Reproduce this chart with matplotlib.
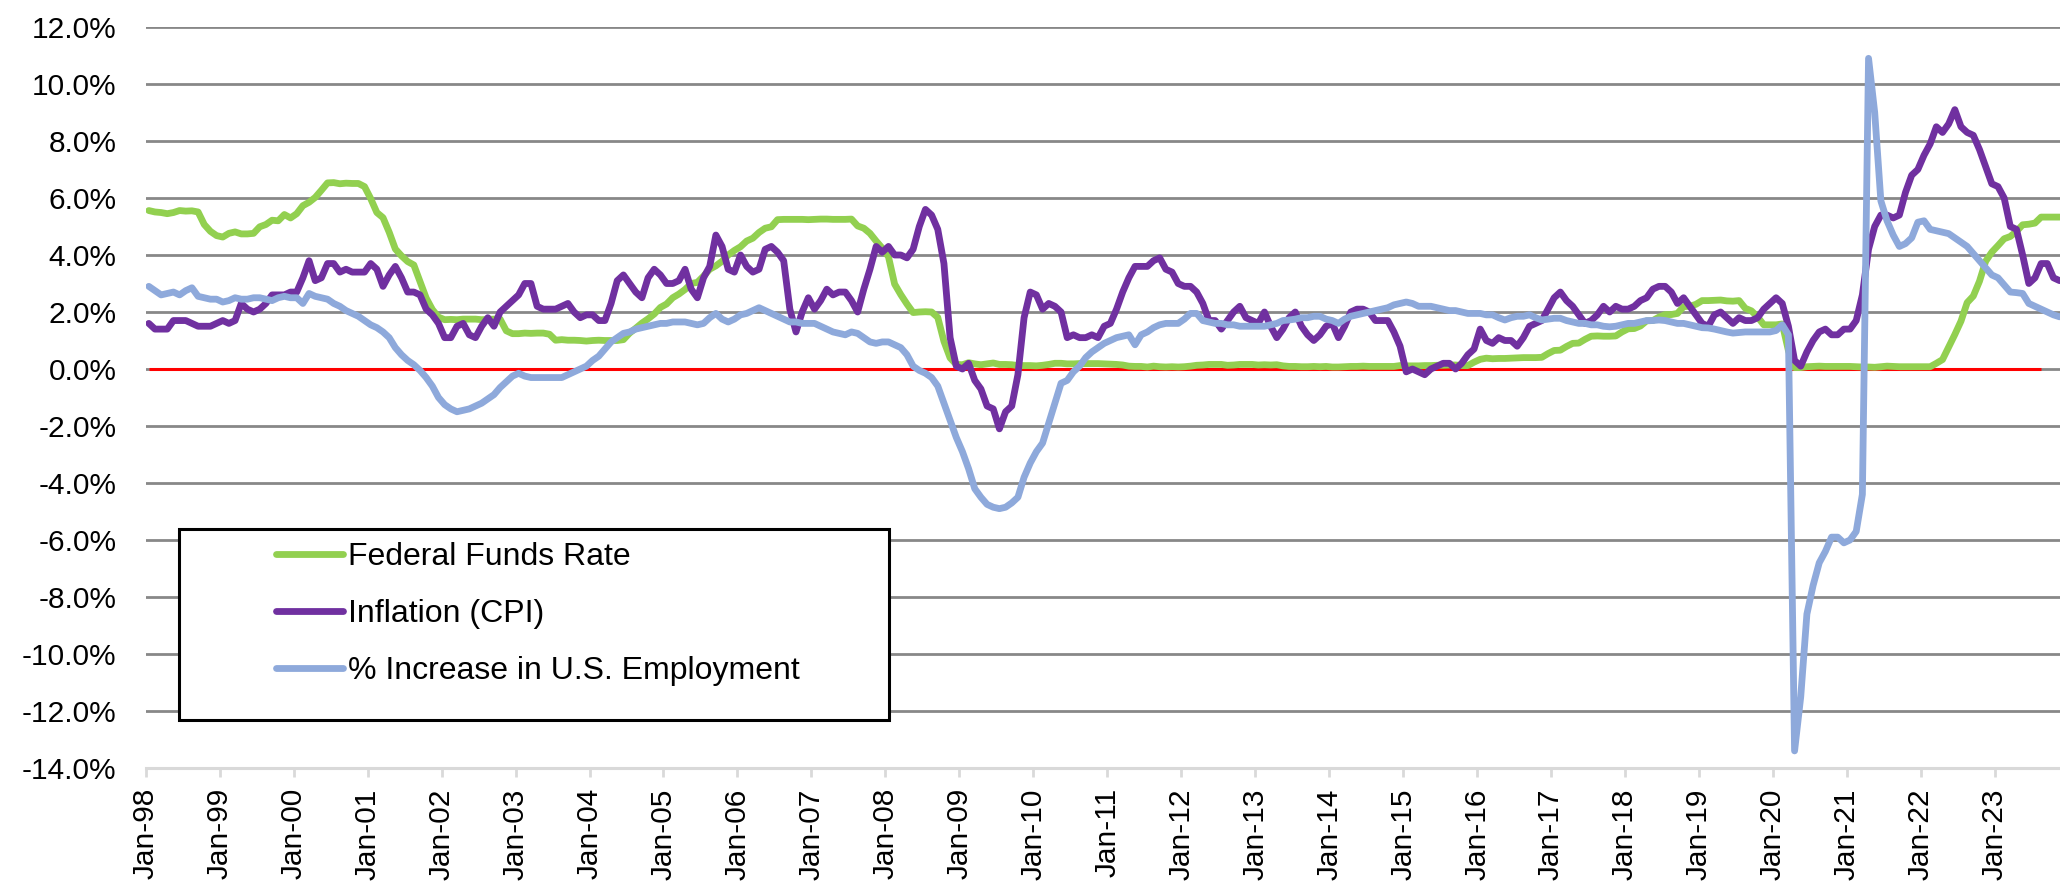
import numpy as np
import matplotlib
matplotlib.use("Agg")
import matplotlib.pyplot as plt
from matplotlib.ticker import FuncFormatter, FixedLocator
from matplotlib.patches import Rectangle
from matplotlib.lines import Line2D

plt.rcParams['font.family'] = ['Liberation Sans', 'DejaVu Sans']

# ---------------- data (monthly, Jan-98 .. Nov-23) ----------------
fed_funds = [
    5.56, 5.51, 5.49, 5.45, 5.49, 5.56, 5.54, 5.55, 5.51, 5.07, 4.83, 4.68,   # 1998
    4.63, 4.76, 4.81, 4.74, 4.74, 4.76, 4.99, 5.07, 5.22, 5.20, 5.42, 5.30,   # 1999
    5.45, 5.73, 5.85, 6.02, 6.27, 6.53, 6.54, 6.50, 6.52, 6.51, 6.51, 6.40,   # 2000
    5.98, 5.49, 5.31, 4.80, 4.21, 3.97, 3.77, 3.65, 3.07, 2.49, 2.09, 1.82,   # 2001
    1.73, 1.74, 1.73, 1.75, 1.75, 1.75, 1.73, 1.74, 1.75, 1.75, 1.34, 1.24,   # 2002
    1.24, 1.26, 1.25, 1.26, 1.26, 1.22, 1.01, 1.03, 1.01, 1.01, 1.00, 0.98,   # 2003
    1.00, 1.01, 1.00, 1.00, 1.00, 1.03, 1.26, 1.43, 1.61, 1.76, 1.93, 2.16,   # 2004
    2.28, 2.50, 2.63, 2.79, 3.00, 3.04, 3.26, 3.50, 3.62, 3.78, 4.00, 4.16,   # 2005
    4.29, 4.49, 4.59, 4.79, 4.94, 4.99, 5.24, 5.25, 5.25, 5.25, 5.25, 5.24,   # 2006
    5.25, 5.26, 5.26, 5.25, 5.25, 5.25, 5.26, 5.02, 4.94, 4.76, 4.49, 4.24,   # 2007
    3.94, 2.98, 2.61, 2.28, 1.98, 2.00, 2.01, 2.00, 1.81, 0.97, 0.39, 0.16,   # 2008
    0.15, 0.22, 0.18, 0.15, 0.18, 0.21, 0.16, 0.16, 0.15, 0.12, 0.12, 0.12,   # 2009
    0.11, 0.13, 0.16, 0.20, 0.20, 0.18, 0.18, 0.19, 0.19, 0.19, 0.19, 0.18,   # 2010
    0.17, 0.16, 0.14, 0.10, 0.09, 0.09, 0.07, 0.10, 0.08, 0.07, 0.08, 0.07,   # 2011
    0.08, 0.10, 0.13, 0.14, 0.16, 0.16, 0.16, 0.13, 0.14, 0.16, 0.16, 0.16,   # 2012
    0.14, 0.15, 0.14, 0.15, 0.11, 0.09, 0.09, 0.08, 0.08, 0.09, 0.08, 0.09,   # 2013
    0.07, 0.07, 0.08, 0.09, 0.09, 0.10, 0.09, 0.09, 0.09, 0.09, 0.09, 0.12,   # 2014
    0.11, 0.11, 0.11, 0.12, 0.12, 0.13, 0.13, 0.14, 0.14, 0.12, 0.12, 0.24,   # 2015
    0.34, 0.38, 0.36, 0.37, 0.37, 0.38, 0.39, 0.40, 0.40, 0.40, 0.41, 0.54,   # 2016
    0.65, 0.66, 0.79, 0.90, 0.91, 1.04, 1.15, 1.16, 1.15, 1.15, 1.16, 1.30,   # 2017
    1.41, 1.42, 1.51, 1.69, 1.70, 1.82, 1.91, 1.91, 1.95, 2.19, 2.20, 2.27,   # 2018
    2.40, 2.40, 2.41, 2.42, 2.39, 2.38, 2.40, 2.13, 2.04, 1.83, 1.55, 1.55,   # 2019
    1.55, 1.58, 0.65, 0.05, 0.05, 0.08, 0.09, 0.10, 0.09, 0.09, 0.09, 0.09,   # 2020
    0.09, 0.08, 0.07, 0.07, 0.06, 0.08, 0.10, 0.09, 0.08, 0.08, 0.08, 0.08,   # 2021
    0.08, 0.08, 0.20, 0.33, 0.77, 1.21, 1.68, 2.33, 2.56, 3.08, 3.78, 4.10,   # 2022
    4.33, 4.57, 4.65, 4.83, 5.06, 5.08, 5.12, 5.33, 5.33, 5.33, 5.33,         # 2023
]

inflation_cpi = [
    1.6, 1.4, 1.4, 1.4, 1.7, 1.7, 1.7, 1.6, 1.5, 1.5, 1.5, 1.6,   # 1998
    1.7, 1.6, 1.7, 2.3, 2.1, 2.0, 2.1, 2.3, 2.6, 2.6, 2.6, 2.7,   # 1999
    2.7, 3.2, 3.8, 3.1, 3.2, 3.7, 3.7, 3.4, 3.5, 3.4, 3.4, 3.4,   # 2000
    3.7, 3.5, 2.9, 3.3, 3.6, 3.2, 2.7, 2.7, 2.6, 2.1, 1.9, 1.6,   # 2001
    1.1, 1.1, 1.5, 1.6, 1.2, 1.1, 1.5, 1.8, 1.5, 2.0, 2.2, 2.4,   # 2002
    2.6, 3.0, 3.0, 2.2, 2.1, 2.1, 2.1, 2.2, 2.3, 2.0, 1.8, 1.9,   # 2003
    1.9, 1.7, 1.7, 2.3, 3.1, 3.3, 3.0, 2.7, 2.5, 3.2, 3.5, 3.3,   # 2004
    3.0, 3.0, 3.1, 3.5, 2.8, 2.5, 3.2, 3.6, 4.7, 4.3, 3.5, 3.4,   # 2005
    4.0, 3.6, 3.4, 3.5, 4.2, 4.3, 4.1, 3.8, 2.1, 1.3, 2.0, 2.5,   # 2006
    2.1, 2.4, 2.8, 2.6, 2.7, 2.7, 2.4, 2.0, 2.8, 3.5, 4.3, 4.1,   # 2007
    4.3, 4.0, 4.0, 3.9, 4.2, 5.0, 5.6, 5.4, 4.9, 3.7, 1.1, 0.1,   # 2008
    0.0, 0.2, -0.4, -0.7, -1.3, -1.4, -2.1, -1.5, -1.3, -0.2, 1.8, 2.7,   # 2009
    2.6, 2.1, 2.3, 2.2, 2.0, 1.1, 1.2, 1.1, 1.1, 1.2, 1.1, 1.5,   # 2010
    1.6, 2.1, 2.7, 3.2, 3.6, 3.6, 3.6, 3.8, 3.9, 3.5, 3.4, 3.0,   # 2011
    2.9, 2.9, 2.7, 2.3, 1.7, 1.7, 1.4, 1.7, 2.0, 2.2, 1.8, 1.7,   # 2012
    1.6, 2.0, 1.5, 1.1, 1.4, 1.8, 2.0, 1.5, 1.2, 1.0, 1.2, 1.5,   # 2013
    1.6, 1.1, 1.5, 2.0, 2.1, 2.1, 2.0, 1.7, 1.7, 1.7, 1.3, 0.8,   # 2014
    -0.1, 0.0, -0.1, -0.2, 0.0, 0.1, 0.2, 0.2, 0.0, 0.2, 0.5, 0.7,   # 2015
    1.4, 1.0, 0.9, 1.1, 1.0, 1.0, 0.8, 1.1, 1.5, 1.6, 1.7, 2.1,   # 2016
    2.5, 2.7, 2.4, 2.2, 1.9, 1.6, 1.7, 1.9, 2.2, 2.0, 2.2, 2.1,   # 2017
    2.1, 2.2, 2.4, 2.5, 2.8, 2.9, 2.9, 2.7, 2.3, 2.5, 2.2, 1.9,   # 2018
    1.6, 1.5, 1.9, 2.0, 1.8, 1.6, 1.8, 1.7, 1.7, 1.8, 2.1, 2.3,   # 2019
    2.5, 2.3, 1.5, 0.3, 0.1, 0.6, 1.0, 1.3, 1.4, 1.2, 1.2, 1.4,   # 2020
    1.4, 1.7, 2.6, 4.2, 5.0, 5.4, 5.4, 5.3, 5.4, 6.2, 6.8, 7.0,   # 2021
    7.5, 7.9, 8.5, 8.3, 8.6, 9.1, 8.5, 8.3, 8.2, 7.7, 7.1, 6.5,   # 2022
    6.4, 6.0, 5.0, 4.9, 4.0, 3.0, 3.2, 3.7, 3.7, 3.2, 3.1,        # 2023
]

employment_growth = [
    2.9, 2.75, 2.6, 2.65, 2.7, 2.6, 2.75, 2.85, 2.55, 2.5, 2.45, 2.45,        # 1998
    2.35, 2.4, 2.5, 2.45, 2.45, 2.5, 2.5, 2.45, 2.4, 2.5, 2.55, 2.5,          # 1999
    2.5, 2.3, 2.65, 2.55, 2.5, 2.45, 2.3, 2.2, 2.05, 1.95, 1.85, 1.7,         # 2000
    1.55, 1.45, 1.3, 1.1, 0.75, 0.5, 0.3, 0.15, -0.05, -0.3, -0.6, -1.0,      # 2001
    -1.25, -1.4, -1.5, -1.45, -1.4, -1.3, -1.2, -1.05, -0.9, -0.65, -0.45, -0.25,  # 2002
    -0.15, -0.25, -0.3, -0.3, -0.3, -0.3, -0.3, -0.3, -0.2, -0.1, 0.0, 0.1,  # 2003
    0.3, 0.45, 0.7, 0.95, 1.1, 1.25, 1.3, 1.4, 1.45, 1.5, 1.55, 1.6,          # 2004
    1.6, 1.65, 1.65, 1.65, 1.6, 1.55, 1.6, 1.8, 1.95, 1.75, 1.65, 1.75,       # 2005
    1.9, 1.95, 2.05, 2.15, 2.05, 1.95, 1.85, 1.75, 1.65, 1.65, 1.6, 1.6,      # 2006
    1.6, 1.5, 1.4, 1.3, 1.25, 1.2, 1.3, 1.25, 1.1, 0.95, 0.9, 0.95,           # 2007
    0.95, 0.85, 0.75, 0.5, 0.1, -0.05, -0.15, -0.3, -0.6, -1.2, -1.8, -2.4,   # 2008
    -2.9, -3.5, -4.2, -4.5, -4.75, -4.85, -4.9, -4.85, -4.7, -4.5, -3.8, -3.3,  # 2009
    -2.9, -2.6, -1.9, -1.2, -0.5, -0.4, -0.1, 0.1, 0.4, 0.6, 0.75, 0.9,       # 2010
    1.0, 1.1, 1.15, 1.2, 0.85, 1.2, 1.3, 1.45, 1.55, 1.6, 1.6, 1.6,           # 2011
    1.75, 1.95, 1.95, 1.7, 1.65, 1.6, 1.6, 1.55, 1.55, 1.5, 1.5, 1.5,         # 2012
    1.5, 1.5, 1.55, 1.6, 1.7, 1.72, 1.75, 1.8, 1.8, 1.85, 1.85, 1.75,         # 2013
    1.7, 1.6, 1.75, 1.85, 1.9, 1.95, 2.0, 2.05, 2.1, 2.15, 2.25, 2.3,         # 2014
    2.35, 2.3, 2.2, 2.2, 2.2, 2.15, 2.1, 2.05, 2.05, 2.0, 1.95, 1.95,         # 2015
    1.95, 1.9, 1.9, 1.8, 1.72, 1.8, 1.85, 1.85, 1.9, 1.8, 1.72, 1.75,         # 2016
    1.78, 1.78, 1.7, 1.65, 1.6, 1.6, 1.55, 1.55, 1.5, 1.48, 1.5, 1.55,        # 2017
    1.6, 1.6, 1.65, 1.7, 1.7, 1.72, 1.7, 1.65, 1.6, 1.6, 1.55, 1.5,           # 2018
    1.45, 1.44, 1.4, 1.35, 1.3, 1.26, 1.28, 1.3, 1.3, 1.3, 1.3, 1.3,          # 2019
    1.35, 1.55, 1.2, -13.4, -11.5, -8.6, -7.6, -6.8, -6.4, -5.9, -5.9, -6.1,  # 2020
    -6.0, -5.7, -4.4, 10.9, 9.0, 5.9, 5.2, 4.7, 4.3, 4.4, 4.6, 5.15,          # 2021
    5.2, 4.9, 4.85, 4.8, 4.75, 4.6, 4.45, 4.3, 4.05, 3.8, 3.55, 3.3,          # 2022
    3.2, 2.95, 2.7, 2.68, 2.65, 2.3, 2.2, 2.1, 2.0, 1.9, 1.83,                # 2023
]

zero_line = [0.0] * 308          # Jan-98 .. Aug-23

tick_labels = ['Jan-%02d' % (y % 100) for y in range(1998, 2024)]
series_labels = ['Federal Funds Rate', 'Inflation (CPI)', '% Increase in U.S. Employment']
colors = ['#92D050', '#7030A0', '#8EA9DB']

# ---------------- figure ----------------
W, H = 2060, 885
fig = plt.figure(figsize=(W / 100, H / 100), dpi=100)
left_px, top_px, bottom_px = 145.7, 27, 768
ax = fig.add_axes([left_px / W, 1 - bottom_px / H, 1 - left_px / W, (bottom_px - top_px) / H])

n = len(fed_funds)
x = np.arange(n) + 0.5

ax.plot(np.arange(len(zero_line)) + 0.5, zero_line, color='#FF0000', lw=2.2,
        solid_capstyle='butt', zorder=2)
for vals, c, lab in zip([fed_funds, inflation_cpi, employment_growth], colors, series_labels):
    ax.plot(x[:len(vals)], vals, color=c, lw=4.9, label=lab,
            solid_joinstyle='round', solid_capstyle='round', zorder=3)

ax.set_xlim(0, (W - left_px) / 6.164)
ax.set_ylim(-14, 12)

# y axis
ax.yaxis.set_major_locator(FixedLocator(np.arange(-14, 13, 2)))
ax.yaxis.set_major_formatter(FuncFormatter(lambda v, p: f"{v:.1f}%"))
ax.tick_params(axis='y', length=0, pad=21, labelsize=21.5, labelcolor='black')
ax.yaxis.grid(True, color='#888888', lw=2.0)
ax.set_axisbelow(True)
ax.get_ygridlines()[0].set_visible(False)

# x axis
ax.set_xticks(np.arange(0, 12 * len(tick_labels), 12))
ax.set_xticklabels(tick_labels, rotation=90)
ax.tick_params(axis='x', length=6.5, width=2.0, color='#D9D9D9', pad=8,
               labelsize=21.5, labelcolor='black')

for s in ['top', 'right', 'left']:
    ax.spines[s].set_visible(False)
ax.spines['bottom'].set_color('#D9D9D9')
ax.spines['bottom'].set_linewidth(2.2)

# legend
fig.patches.append(Rectangle((179 / W, 1 - 720 / H), (889 - 179) / W, (720 - 529) / H,
                             transform=fig.transFigure, fill=True, facecolor='white',
                             edgecolor='black', lw=2.2, zorder=5))
handles = [Line2D([], [], color=c, lw=4.9, solid_capstyle='round') for c in colors]
leg = fig.legend(handles, series_labels, loc='upper left',
                 bbox_to_anchor=(276 / W, 1 - 542 / H), bbox_transform=fig.transFigure,
                 frameon=False, borderpad=0, borderaxespad=0, fontsize=23,
                 handlelength=2.1, handletextpad=0.15, labelspacing=0.85)
leg.set_zorder(6)

fig.savefig('out.png', dpi=100)
